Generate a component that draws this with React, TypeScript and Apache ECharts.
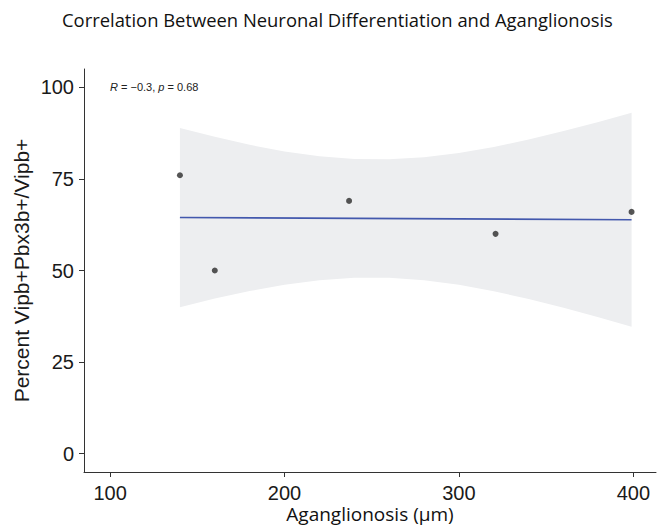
import React, { useEffect, useRef } from "react";
import * as echarts from "echarts";

const titleText = "Correlation Between Neuronal Differentiation and Aganglionosis";
const xName = "Aganglionosis (µm)";
const yName = "Percent Vipb+Pbx3b+/Vipb+";

// observed points
const pointX = [140, 160, 237, 321, 399];
const pointY = [76, 50, 69, 60, 66];

// fitted line endpoints
const fitX = [140, 399];
const fitY = [64.46, 63.85];

// confidence band
const bandX = [140, 160, 180, 200, 220, 240, 260, 280, 300, 320, 340, 360, 380, 399];
const bandLower = [40.0, 42.35, 44.4, 46.1, 47.35, 48.0, 48.0, 47.35, 46.1, 44.35, 42.2, 39.85, 37.25, 34.65];
const bandUpper = [88.9, 86.5, 84.3, 82.5, 81.2, 80.45, 80.35, 80.9, 82.1, 83.7, 85.75, 88.05, 90.55, 93.05];

const xTicks = [100, 200, 300, 400];
const yTicks = [0, 25, 50, 75, 100];

export default function App() {
  const ref = useRef<HTMLDivElement>(null);
  useEffect(() => {
    if (!ref.current) return;
    const chart = echarts.init(ref.current, undefined, { renderer: "svg" });
    const axisColor = "#333333";
    const labelFont = "'Liberation Sans', Arial, sans-serif";
    chart.setOption({
      animation: false,
      backgroundColor: "#ffffff",
      title: {
        text: titleText,
        left: 57,
        top: 5,
        textStyle: { fontFamily: "'Open Sans', sans-serif", fontSize: 18.4, fontWeight: "normal", color: "#111" },
      },
      grid: { left: 84, right: 1, top: 69, bottom: 55, outerBoundsMode: "none", containLabel: false },
      xAxis: {
        type: "value",
        min: 85,
        max: 413,
        name: xName,
        nameLocation: "middle",
        nameGap: 32,
        nameMoveOverlap: false,
        nameTextStyle: { fontFamily: "'Open Sans', sans-serif", fontSize: 19, color: "#111", verticalAlign: "top" },
        axisLine: { show: true, onZero: false, lineStyle: { color: axisColor, width: 1 } },
        axisTick: { show: true, length: 5, customValues: xTicks, lineStyle: { color: axisColor } },
        axisLabel: { customValues: xTicks, fontFamily: labelFont, fontSize: 20, color: "#1a1a1a", margin: 11 },
        splitLine: { show: false },
      },
      yAxis: {
        type: "value",
        min: -5,
        max: 105,
        name: yName,
        nameLocation: "middle",
        nameGap: 52,
        nameMoveOverlap: false,
        nameTextStyle: { fontFamily: labelFont, fontSize: 21, color: "#1a1a1a" },
        axisLine: { show: true, onZero: false, lineStyle: { color: axisColor, width: 1 } },
        axisTick: { show: true, length: 5, customValues: yTicks, lineStyle: { color: axisColor } },
        axisLabel: { customValues: yTicks, fontFamily: labelFont, fontSize: 20, color: "#1a1a1a", margin: 10 },
        splitLine: { show: false },
      },
      series: [
        {
          type: "custom",
          silent: true,
          data: [[bandX[0], bandLower[0]]],
          renderItem: (params: any, api: any) => {
            const pts: number[][] = [];
            for (let i = 0; i < bandX.length; i++) pts.push(api.coord([bandX[i], bandUpper[i]]));
            for (let i = bandX.length - 1; i >= 0; i--) pts.push(api.coord([bandX[i], bandLower[i]]));
            return {
              type: "polygon",
              shape: { points: pts },
              style: { fill: "#edeef0", stroke: "none" },
            };
          },
          z: 1,
        },
        {
          type: "line",
          data: fitX.map((x, i) => [x, fitY[i]]),
          symbol: "none",
          lineStyle: { color: "#4358ad", width: 1.6 },
          z: 2,
        },
        {
          type: "scatter",
          data: pointX.map((x, i) => [x, pointY[i]]),
          symbolSize: 6,
          itemStyle: { color: "#2b2b2b" },
          z: 3,
        },
      ],
      graphic: [
        {
          type: "text",
          left: 110,
          top: 81,
          style: {
            text: "{i|R} = −0.3, {i|p} = 0.68",
            font: "11px 'Liberation Sans', Arial, sans-serif",
            fill: "#222",
            rich: {
              i: { fontStyle: "italic", fontSize: 11, fontFamily: "'Liberation Sans', Arial, sans-serif", fill: "#222" },
            },
          },
        },
      ],
    });
    return () => chart.dispose();
  }, []);
  return <div ref={ref} style={{ width: 657, height: 527, position: "absolute", left: 0, top: 0 }} />;
}
